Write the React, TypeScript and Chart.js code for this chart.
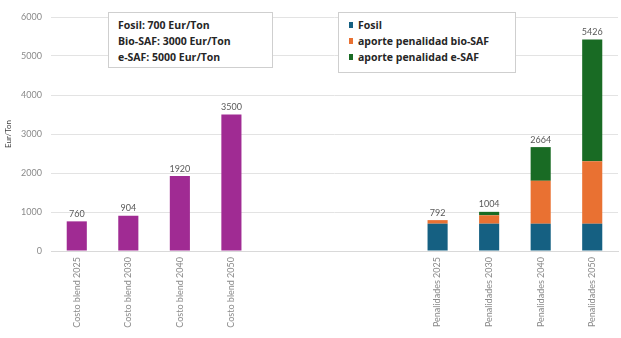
import React, { useEffect, useRef } from "react";
import { Chart, registerables } from "chart.js";

Chart.register(...registerables);

const categories = [
  "Costo blend 2025",
  "Costo blend 2030",
  "Costo blend 2040",
  "Costo blend 2050",
  "",
  "",
  "",
  "Penalidades 2025",
  "Penalidades 2030",
  "Penalidades 2040",
  "Penalidades 2050",
];
const costoBlend = [760, 904, 1920, 3500, null, null, null, null, null, null, null];
const fosil = [null, null, null, null, null, null, null, 700, 700, 700, 700];
const bioSAF = [null, null, null, null, null, null, null, 92, 216, 1100, 1600];
const eSAF = [null, null, null, null, null, null, null, 0, 88, 864, 3126];
const yTicks = [0, 1000, 2000, 3000, 4000, 5000, 6000];
const priceLines = ["Fosil: 700 Eur/Ton", "Bio-SAF: 3000 Eur/Ton", "e-SAF: 5000 Eur/Ton"];
const legendItems = [
  { label: "Fosil", color: "#156082" },
  { label: "aporte penalidad bio-SAF", color: "#E97132" },
  { label: "aporte penalidad e-SAF", color: "#196B24" },
];

const FONT = "Lato, 'Open Sans', sans-serif";
const BOX_FONT = "'Open Sans', Lato, sans-serif";

const totalsPlugin = {
  id: "totals",
  afterDatasetsDraw(chart: any) {
    const ctx = chart.ctx;
    const n = categories.length;
    ctx.save();
    ctx.fillStyle = "#595959";
    ctx.font = `9px ${FONT}`;
    ctx.textAlign = "center";
    ctx.textBaseline = "bottom";
    for (let i = 0; i < n; i++) {
      let total = 0;
      let has = false;
      let topY = Infinity;
      let x = 0;
      chart.data.datasets.forEach((ds: any, di: number) => {
        const v = ds.data[i];
        if (v === null || v === undefined) return;
        has = true;
        total += v;
        const el = chart.getDatasetMeta(di).data[i];
        if (el) {
          x = el.x;
          topY = Math.min(topY, el.y);
        }
      });
      if (has) ctx.fillText(String(total), x, topY - 3);
    }
    ctx.restore();
  },
};

export default function App() {
  const ref = useRef<HTMLCanvasElement | null>(null);
  useEffect(() => {
    if (!ref.current) return;
    const chart = new Chart(ref.current, {
      type: "bar",
      data: {
        labels: categories,
        datasets: [
          { label: "Costo blend", data: costoBlend as any, backgroundColor: "#A02B93", stack: "s" },
          { label: "Fosil", data: fosil as any, backgroundColor: "#156082", stack: "s" },
          { label: "aporte penalidad bio-SAF", data: bioSAF as any, backgroundColor: "#E97132", stack: "s" },
          { label: "aporte penalidad e-SAF", data: eSAF as any, backgroundColor: "#196B24", stack: "s" },
        ],
      },
      options: {
        responsive: false,
        animation: false,
        layout: { padding: { top: 17, right: 3, left: 0, bottom: 0 } },
        datasets: { bar: { categoryPercentage: 1, barPercentage: 0.39 } },
        plugins: { legend: { display: false }, tooltip: { enabled: false } },
        scales: {
          x: {
            stacked: true,
            grid: { display: false, drawTicks: false },
            border: { display: true, color: "#d9d9d9" },
            ticks: {
              autoSkip: false,
              maxRotation: 90,
              minRotation: 90,
              padding: 6,
              color: "#8a8a8a",
              font: { size: 9, family: FONT },
            },
            afterFit(scale: any) {
              scale.height = 87;
            },
          },
          y: {
            stacked: true,
            min: 0,
            max: 6000,
            afterBuildTicks(scale: any) {
              scale.ticks = yTicks.map((v) => ({ value: v }));
            },
            grid: { color: "#e3e3e3", drawTicks: false },
            border: { display: false },
            ticks: {
              padding: 9,
              color: "#8a8a8a",
              font: { size: 9, family: FONT },
              callback: (v: any) => String(v),
            },
            title: {
              display: true,
              text: "Eur/Ton",
              color: "#404040",
              padding: { top: 4, bottom: 0 },
              font: { size: 8, family: FONT },
            },
            afterFit(scale: any) {
              scale.width = 51;
            },
          },
        },
      },
      plugins: [totalsPlugin],
    });
    return () => chart.destroy();
  }, []);

  const boxStyle: React.CSSProperties = {
    position: "absolute",
    background: "#fff",
    border: "1px solid #cfcfcf",
    boxSizing: "border-box",
    fontFamily: BOX_FONT,
    fontWeight: 700,
    fontSize: 10.5,
    color: "#262626",
    lineHeight: "16px",
  };

  return (
    <div style={{ position: "fixed", left: 0, top: 0, width: 621, height: 338, background: "#fff" }}>
      <canvas ref={ref} width={621} height={338} style={{ display: "block" }} />
      <div style={{ ...boxStyle, left: 108, top: 12, width: 165, height: 56, padding: "4px 0 0 9px" }}>
        {priceLines.map((t) => (
          <div key={t}>{t}</div>
        ))}
      </div>
      <div style={{ ...boxStyle, left: 338, top: 12, width: 178, height: 61, padding: "4px 0 0 10px" }}>
        {legendItems.map((it) => (
          <div key={it.label} style={{ display: "flex", alignItems: "center" }}>
            <span style={{ display: "inline-block", width: 4, height: 6, background: it.color, marginRight: 5 }} />
            {it.label}
          </div>
        ))}
      </div>
    </div>
  );
}
